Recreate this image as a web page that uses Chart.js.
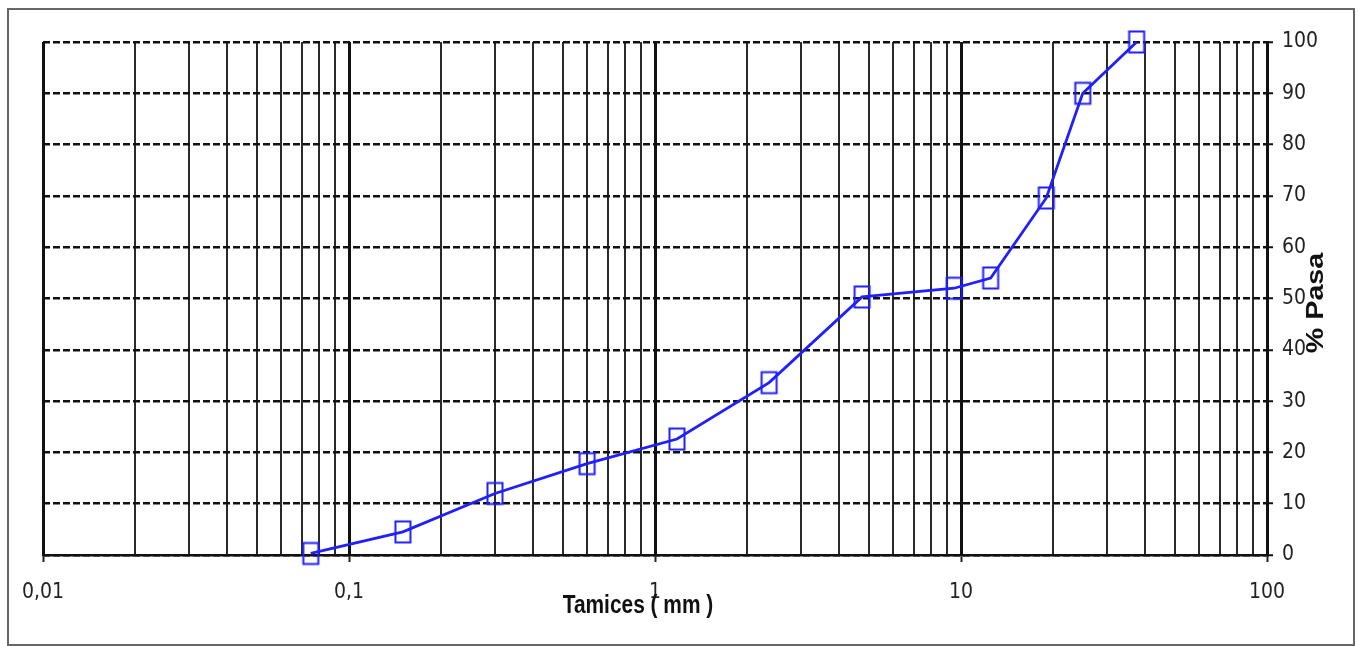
<!DOCTYPE html>
<html>
<head>
<meta charset="utf-8">
<script src="https://cdn.jsdelivr.net/npm/chart.js@4"></script>
<style>
  html, body { margin: 0; padding: 0; background: #fff; }
  #wrap { position: relative; width: 1359px; height: 646px; }
</style>
</head>
<body>
<div id="wrap"><canvas id="myChart" width="1359" height="646"></canvas></div>
<script>
	// tamices (mm) y % que pasa
	const sieveSizes = [0.075, 0.15, 0.3, 0.6, 1.18, 2.36, 4.75, 9.5, 12.5, 19, 25, 37.5];
	const percentPassing = [0.3, 4.5, 12, 17.8, 22.6, 33.6, 50.3, 52, 54, 69.6, 90, 100];

	const decades = [0.01, 0.1, 1, 10, 100];
	const decadeLabels = ['0,01', '0,1', '1', '10', '100'];
	const yTickStep = 10;

	// lineas de grilla: 1..9 por cada decada
	const xTicks = [];
	for (let d = 0; d < decades.length - 1; d++) {
		for (let k = 1; k <= 9; k++) xTicks.push(k * decades[d]);
	}
	xTicks.push(decades[decades.length - 1]);

	const tickFont = { family: "'Liberation Sans Narrow', 'Arial Narrow', 'DejaVu Sans Condensed', sans-serif", size: 21 };

	// marcador rectangular (mas alto que ancho, como en el original)
	const marker = document.createElement('canvas');
	marker.width = 20; marker.height = 26;
	const mctx = marker.getContext('2d');
	mctx.strokeStyle = '#1f1fff';
	mctx.lineWidth = 2;
	mctx.strokeRect(2.5, 2.5, 15, 21);

	const extras = {
		id: 'extras',
		beforeDraw(chart) {
			const c = chart.ctx;
			c.save();
			c.fillStyle = '#fff';
			c.fillRect(0, 0, chart.width, chart.height);
			c.strokeStyle = '#666';
			c.lineWidth = 2;
			c.strokeRect(8, 9, 1346, 636);
			c.restore();
		},
		afterDraw(chart) {
			const c = chart.ctx;
			c.save();
			c.fillStyle = '#111';
			c.textAlign = 'center';
			c.textBaseline = 'middle';
			// titulo eje x
			c.save();
			c.translate(638, 606);
			c.scale(0.95, 1.2);
			c.font = "bold 22px 'Liberation Sans', Arial, sans-serif";
			c.fillText('Tamices ( mm )', 0, 0);
			c.restore();
			// titulo eje y
			c.save();
			c.translate(1317, 303);
			c.rotate(-Math.PI / 2);
			c.scale(1.25, 1);
			c.font = "bold 23px 'Liberation Sans', Arial, sans-serif";
			c.fillText('% Pasa', 0, 0);
			c.restore();
			c.restore();
		}
	};

	const data = {
		datasets: [{
			label: '% Pasa',
			data: sieveSizes.map((s, i) => ({ x: s, y: percentPassing[i] })),
			borderColor: '#1f1fff',
			borderWidth: 2.8,
			pointStyle: marker,
			pointRadius: 11,
			pointHoverRadius: 11,
			tension: 0,
			fill: false,
			clip: false
		}]
	};

	const config = {
		type: 'line',
		data,
		options: {
			responsive: false,
			animation: false,
			layout: { padding: { left: 43, top: 42, right: 0, bottom: 0 } },
			plugins: { legend: { display: false }, tooltip: { enabled: false } },
			scales: {
				x: {
					type: 'logarithmic',
					min: 0.01,
					max: 100,
					afterBuildTicks: (scale) => { scale.ticks = xTicks.map(v => ({ value: v })); },
					afterFit: (scale) => { scale.height = 91; },
					ticks: {
						autoSkip: false,
						maxRotation: 0,
						padding: 18,
						color: '#222',
						font: tickFont,
						callback: (v, i) => (i % 9 === 0 ? decadeLabels[i / 9] : '')
					},
					grid: {
						color: (c) => (c.index % 9 === 0 ? '#111' : '#2a2a2a'),
						lineWidth: (c) => (c.index % 9 === 0 ? 3 : 2),
						tickLength: 7,
						tickColor: (c) => (c.index % 9 === 0 ? '#222' : 'rgba(0,0,0,0)'),
						tickWidth: 2
					},
					border: { display: true, color: '#111', width: 2.5 }
				},
				y: {
					position: 'right',
					min: 0,
					max: 100,
					afterFit: (scale) => { scale.width = 92; },
					ticks: {
						stepSize: yTickStep,
						padding: 9,
						color: '#222',
						font: tickFont
					},
					grid: {
						color: '#111',
						lineWidth: 2.5,
						tickLength: 6,
						tickColor: '#111',
						tickWidth: 2
					},
					border: { display: true, color: '#111', width: 3, dash: [7, 3] }
				}
			}
		},
		plugins: [extras]
	};

	const myChart = new Chart(document.getElementById('myChart'), config);
</script>
</body>
</html>
